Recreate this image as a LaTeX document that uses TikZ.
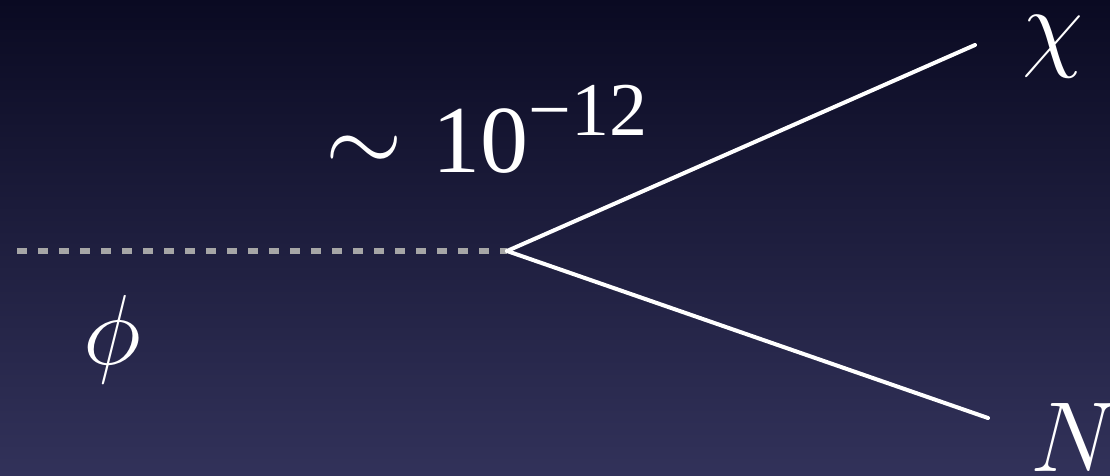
\documentclass[tikz,border=0pt]{standalone}
\usepackage{graphicx}
\usepackage{fontspec}
\setmainfont{Liberation Serif}
\newcommand{\hugemathsym}[1]{\scalebox{4}{\fontsize{24.88}{30}\selectfont$#1$}}
\begin{document}
\begin{tikzpicture}[x=1pt,y=-1pt,
  lbl/.style={text=white,inner sep=0pt,font=\fontsize{100}{110}\selectfont},
  fermion/.style={draw=white,line width=4pt,line cap=round},
  scalar/.style={draw=gray!70!white,line width=5.5pt,dash pattern=on 10pt off 11pt}]
\shade[top color={rgb,255:red,10;green,10;blue,34},bottom color={rgb,255:red,50;green,50;blue,90}] (0,0) rectangle (1110,476);
\useasboundingbox (0,0) rectangle (1110,476);
\coordinate (s) at (17,251);
\coordinate (v) at (507,251);
\coordinate (e1) at (975,45);
\coordinate (e2) at (988,418);
\draw[scalar] (s) -- (v);
\draw[fermion] (v) -- (e1);
\draw[fermion] (v) -- (e2);
\node[lbl] (chi) at (1053,47) {\hugemathsym{\chi}};
\node[lbl,anchor=base west] (N) at (1030,471) {\hugemathsym{N}};
\node[lbl] (phi) at (112,340) {\hugemathsym{\phi}};
\node[text=white,inner sep=0pt,anchor=base west] (coup) at (325,172)
  {\fontsize{96}{100}\selectfont\hugemathsym{\sim}\hspace{30pt}10\raisebox{37pt}{\fontsize{76}{80}\selectfont −12}};
\end{tikzpicture}
\end{document}
